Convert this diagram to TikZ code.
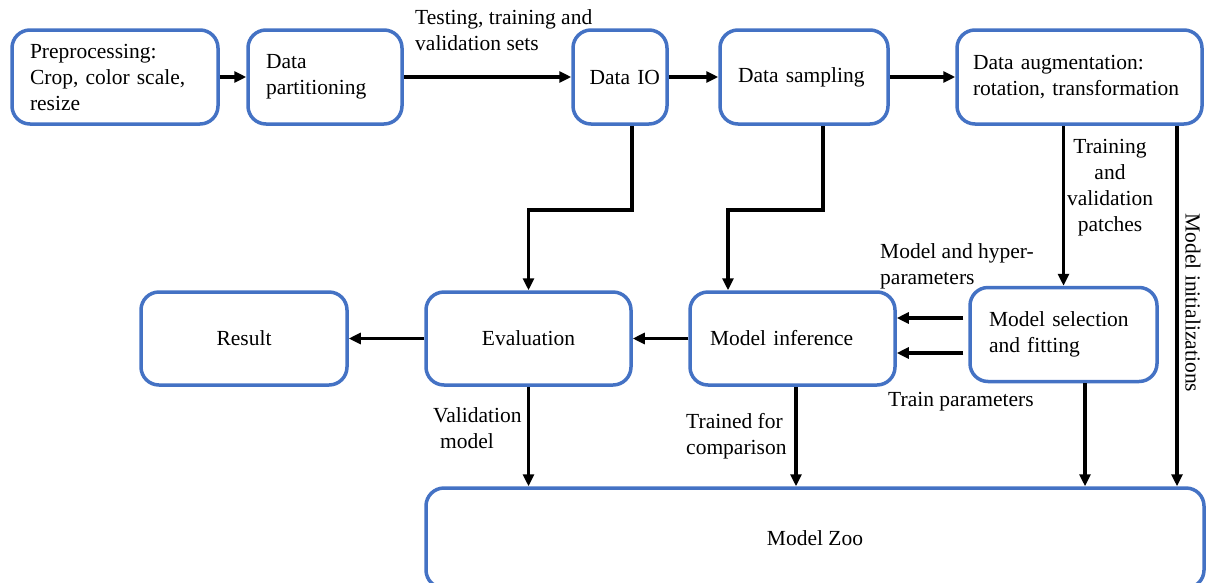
\documentclass[tikz,border=0pt]{standalone}
\usepackage{fontspec}
\setmainfont{Liberation Serif}
\usepackage{tikz}
\usetikzlibrary{
    arrows.meta,    % 箭头样式
    calc            % 坐标计算
}
\definecolor{boxblue}{HTML}{4472C4}
\newcommand{\diagfont}{\fontsize{21.5}{26}\selectfont}

\begin{document}
\begin{tikzpicture}[
    x=1pt, y=-1pt,
    font=\diagfont,
    blockbox/.style={draw=boxblue, line width=3.5pt, rounded corners=18pt,
        minimum height=94pt, inner sep=0pt},
    flowarrow/.style={line width=3.5pt, -{Triangle[length=12pt,width=11pt]}},
    lbl/.style={inner sep=0pt, align=left}
]
    \useasboundingbox (0,0) rectangle (1207,582);

    % 第一行方框
    \node[blockbox, minimum width=206pt, text width=170pt, align=left] (pre) at (115,77)
        {Preprocessing:\\Crop, color scale,\\resize};
    \node[blockbox, minimum width=154pt, text width=118pt, align=left] (part) at (325,77)
        {Data\\partitioning};
    \node[blockbox, minimum width=94pt, inner xsep=7pt, text width=80pt, align=right] (dio) at (620,77)
        {Data IO};
    \node[blockbox, minimum width=168pt, text width=132pt, align=left] (samp) at (804,77)
        {Data sampling};
    \node[blockbox, minimum width=245pt, text width=213pt, align=left] (aug) at (1079.5,77)
        {Data augmentation:\\rotation, transformation};

    % 第二行方框
    \node[blockbox, minimum width=206pt, minimum height=93pt] (res) at (244,338.5) {Result};
    \node[blockbox, minimum width=205pt, minimum height=93pt] (eval) at (528.5,338.5) {Evaluation};
    \node[blockbox, minimum width=205pt, minimum height=93pt, text width=165pt, align=left] (inf)
        at (792.5,338.5) {Model inference};
    \node[blockbox, minimum width=187pt, text width=149pt, align=left] (sel) at (1063.5,334.5)
        {Model selection\\and fitting};

    % 底部大方框
    \node[blockbox, minimum width=778pt, minimum height=100pt] (zoo) at (815,538) {Model Zoo};

    % 第一行箭头
    \draw[flowarrow] (pre.east) -- (part.west);
    \draw[flowarrow] (part.east) -- (dio.west);
    \draw[flowarrow] (dio.east) -- (samp.west);
    \draw[flowarrow] (samp.east) -- (aug.west);
    \node[lbl, anchor=west] (lblsets) at (415,30.5) {Testing, training and\\validation sets};

    % 向下的折线箭头
    \draw[flowarrow] ([xshift=12pt]dio.south) -- ++(0,84) -| (eval.north);
    \draw[flowarrow] ([xshift=19pt]samp.south) -- ++(0,84) -| ([xshift=-64.5pt]inf.north);
    \draw[flowarrow] (aug.south -| sel.north) -- (sel.north);
    \node[lbl, align=center] (lblpatch) at (1110,188) {Training\\and\\validation\\patches};
    \draw[flowarrow] ([xshift=97.5pt]aug.south) coordinate (inittop) -- (inittop |- zoo.north);
    \node[lbl, rotate=-90] (lblinit) at (1193,303) {Model initializations};

    % 第二行箭头
    \draw[flowarrow, shorten <=5pt] ([yshift=16.5pt]sel.west) -- ([yshift=16.5pt]sel.west -| inf.east);
    \draw[flowarrow, shorten <=5pt] ([yshift=-18.5pt]sel.west) -- ([yshift=-18.5pt]sel.west -| inf.east);
    \node[lbl, anchor=west] (lblhyper) at (880,266) {Model and hyper-\\parameters};
    \node[lbl, anchor=west] (lbltrain) at (888,402) {Train parameters};
    \draw[flowarrow] (inf.west) -- (eval.east);
    \draw[flowarrow] (eval.west) -- (res.east);

    % 指向 Model Zoo 的箭头
    \draw[flowarrow] (eval.south) -- (eval.south |- zoo.north);
    \node[lbl, anchor=west] (lblvalid) at (433,428) {Validation\\\hspace*{7pt}model};
    \draw[flowarrow] ([xshift=3.5pt]inf.south) coordinate (inftop) -- (inftop |- zoo.north);
    \node[lbl, anchor=west] (lblcomp) at (686,436) {Trained for\\comparison};
    \draw[flowarrow] ([xshift=21.5pt]sel.south) coordinate (seltop) -- (seltop |- zoo.north);
\end{tikzpicture}
\end{document}
